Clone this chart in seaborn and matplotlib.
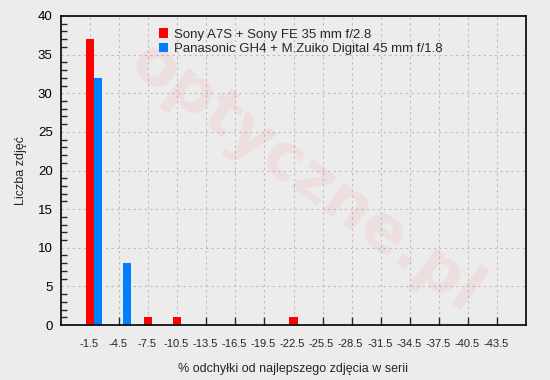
import matplotlib
matplotlib.use("Agg")
import matplotlib.pyplot as plt
import matplotlib.transforms as mtrans
import seaborn as sns
import pandas as pd
from matplotlib.ticker import MultipleLocator

categories = ["-1.5", "-4.5", "-7.5", "-10.5", "-13.5", "-16.5", "-19.5", "-22.5",
              "-25.5", "-28.5", "-31.5", "-34.5", "-37.5", "-40.5", "-43.5"]
sony = [37, 0, 1, 1, 0, 0, 0, 1, 0, 0, 0, 0, 0, 0, 0]
panasonic = [32, 8, 0, 0, 0, 0, 0, 0, 0, 0, 0, 0, 0, 0, 0]
series_names = ["Sony A7S + Sony FE 35 mm f/2.8",
                "Panasonic GH4 + M.Zuiko Digital 45 mm f/1.8"]
colors = ["#FF0000", "#0080FF"]

df = pd.DataFrame({
    "cat": categories * 2,
    "val": sony + panasonic,
    "series": [series_names[0]] * len(categories) + [series_names[1]] * len(categories),
})

sns.set_style("white")
plt.rcParams["font.family"] = ["Liberation Sans", "DejaVu Sans"]
bg = "#ECECEC"
fig = plt.figure(figsize=(5.5, 3.8), dpi=100, facecolor=bg)

fig.text(0.555, 0.53, "optyczne.pl", fontsize=46, fontweight="bold", color="#FF0000",
         alpha=0.06, rotation=-36, ha="center", va="center", zorder=0,
         family="DejaVu Sans")

ax = fig.add_axes([61/550, 1 - 325/380, (526-61)/550, (325-16)/380])
ax.patch.set_alpha(0)

sns.barplot(data=df, x="cat", y="val", hue="series", palette=colors,
            width=0.56, saturation=1, ax=ax, order=categories, legend=True,
            edgecolor="none", linewidth=0)

# reference draws each bar pair slightly right of its grid line
shift = mtrans.ScaledTranslation(4/100, 0, fig.dpi_scale_trans)
for p in ax.patches:
    p.set_transform(ax.transData + shift)

ax.set_xlim(-1, 15)
ax.set_ylim(0, 40)
ax.yaxis.set_major_locator(MultipleLocator(5))
ax.yaxis.set_minor_locator(MultipleLocator(1))
ax.grid(True, which="major", axis="both", linestyle=(0, (2, 3)), color="#BBBBBB", linewidth=0.8)
ax.set_axisbelow(True)
for s in ax.spines.values():
    s.set_color("black")
    s.set_linewidth(1.2)
ax.tick_params(axis="y", which="major", direction="in", length=8, width=1, labelsize=9.5, pad=6, colors="black")
ax.tick_params(axis="y", which="minor", direction="in", length=4, width=1, left=True)
ax.tick_params(axis="x", which="major", direction="in", length=6, width=1, labelsize=8, pad=10, bottom=True)
offset = mtrans.ScaledTranslation(-1/100, 0, fig.dpi_scale_trans)
for lbl in ax.get_xticklabels():
    lbl.set_transform(lbl.get_transform() + offset)

ax.set_xlabel("% odchyłki od najlepszego zdjęcia w serii", fontsize=9, labelpad=10)
ax.set_ylabel("Liczba zdjęć", fontsize=9, labelpad=8)

leg = ax.legend(loc="upper left", bbox_to_anchor=(0.19, 0.99), frameon=False,
                fontsize=9.5, handlelength=0.7, handleheight=0.7, handletextpad=0.5,
                labelspacing=0.15, borderaxespad=0.3)

fig.savefig("out.png", dpi=100, facecolor=bg)
